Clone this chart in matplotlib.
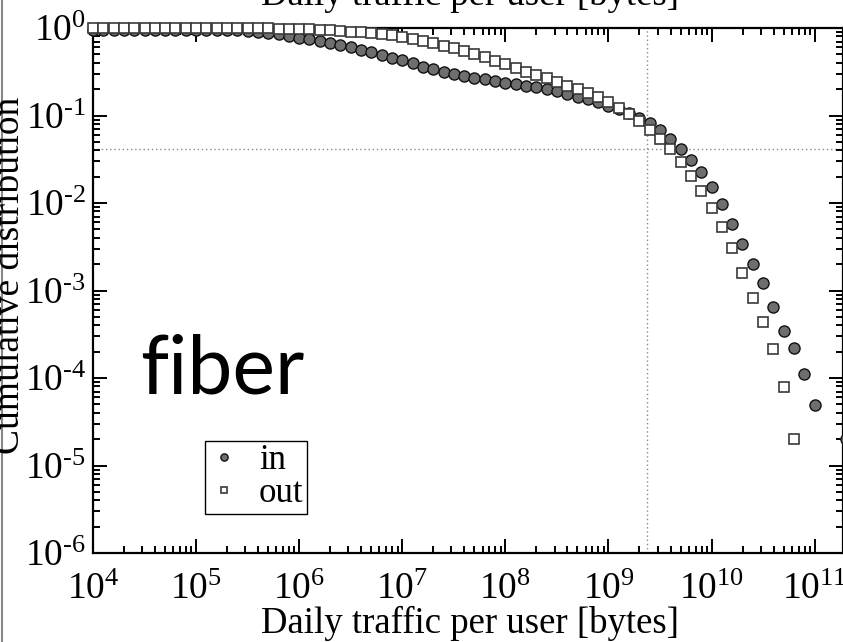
import numpy as np
import matplotlib
matplotlib.use("Agg")
import matplotlib.pyplot as plt
from matplotlib.ticker import LogLocator, NullFormatter, FuncFormatter

plt.rcParams['font.family'] = ['Liberation Serif', 'DejaVu Serif']
plt.rcParams['mathtext.fontset'] = 'stix'
plt.rcParams['axes.unicode_minus'] = False

# ---- data (log10 of bytes, log10 of cumulative fraction) ----
in_x_log = [4.0, 4.1, 4.2, 4.3, 4.4, 4.5, 4.6, 4.7, 4.8, 4.9,
            5.0, 5.1, 5.2, 5.3, 5.4, 5.5, 5.6, 5.7, 5.8, 5.9,
            6.0, 6.1, 6.2, 6.3, 6.4, 6.5, 6.6, 6.7, 6.8, 6.9,
            7.0, 7.1, 7.2, 7.3, 7.4, 7.5, 7.6, 7.7, 7.8, 7.9,
            8.0, 8.1, 8.2, 8.3, 8.4, 8.5, 8.6, 8.7, 8.8, 8.9,
            9.0, 9.1, 9.2, 9.3, 9.4, 9.5, 9.6, 9.7, 9.8, 9.9,
            10.0, 10.1, 10.2, 10.3, 10.4, 10.5, 10.6, 10.7, 10.8, 10.9,
            11.0, 11.3]
in_y_log = [-0.018, -0.018, -0.018, -0.018, -0.018, -0.018, -0.018, -0.018, -0.018, -0.018,
            -0.020, -0.020, -0.022, -0.025, -0.028, -0.034, -0.046, -0.057, -0.074, -0.091,
            -0.109, -0.131, -0.154, -0.171, -0.194, -0.217, -0.246, -0.274, -0.303, -0.340,
            -0.370, -0.405, -0.440, -0.470, -0.500, -0.526, -0.549, -0.571, -0.586, -0.606,
            -0.625, -0.640, -0.660, -0.676, -0.697, -0.720, -0.754, -0.786, -0.811, -0.846,
            -0.891, -0.926, -0.971, -1.029, -1.086, -1.166, -1.270, -1.383, -1.509, -1.646,
            -1.817, -2.011, -2.240, -2.469, -2.697, -2.914, -3.190, -3.463, -3.657, -3.954,
            -4.309, -4.697]

out_x_log = [4.0, 4.1, 4.2, 4.3, 4.4, 4.5, 4.6, 4.7, 4.8, 4.9,
             5.0, 5.1, 5.2, 5.3, 5.4, 5.5, 5.6, 5.7, 5.8, 5.9,
             6.0, 6.1, 6.2, 6.3, 6.4, 6.5, 6.6, 6.7, 6.8, 6.9,
             7.0, 7.1, 7.2, 7.3, 7.4, 7.5, 7.6, 7.7, 7.8, 7.9,
             8.0, 8.1, 8.2, 8.3, 8.4, 8.5, 8.6, 8.7, 8.8, 8.9,
             9.0, 9.1, 9.2, 9.3, 9.4, 9.5, 9.6, 9.7, 9.8, 9.9,
             10.0, 10.1, 10.2, 10.3, 10.4, 10.5, 10.6, 10.7, 10.8]
out_y_log = [0.0, 0.0, 0.0, 0.0, 0.0, 0.0, 0.0, 0.0, 0.0, 0.0,
             -0.002, -0.002, -0.003, -0.003, -0.004, -0.004, -0.005, -0.005, -0.006, -0.007,
             -0.008, -0.012, -0.018, -0.025, -0.032, -0.040, -0.048, -0.058, -0.070, -0.085,
             -0.103, -0.126, -0.149, -0.171, -0.206, -0.229, -0.263, -0.300, -0.337, -0.377,
             -0.411, -0.457, -0.503, -0.537, -0.571, -0.617, -0.663, -0.697, -0.743, -0.789,
             -0.846, -0.914, -0.983, -1.063, -1.166, -1.269, -1.383, -1.531, -1.691, -1.863,
             -2.057, -2.274, -2.514, -2.800, -3.086, -3.360, -3.669, -4.103, -4.697]

vline_x = 2.36e9
hline_y = 0.0414

W, H = 843, 642
fig = plt.figure(figsize=(W / 100, H / 100), dpi=100)
ax = fig.add_axes([93 / W, (H - 553) / H, (W - 93) / W, (553 - 28) / H])

ax.set_xscale('log')
ax.set_yscale('log')
ax.set_xlim(1e4, 10 ** 11.275)
ax.set_ylim(1e-6, 1.0)

ax.axvline(vline_x, color='#888888', lw=1.0, ls=(0, (1, 2)), zorder=1)
ax.axhline(hline_y, color='#888888', lw=1.0, ls=(0, (1, 2)), zorder=1)

in_x = 10 ** np.array(in_x_log)
in_y = 10 ** np.array(in_y_log)
out_x = 10 ** np.array(out_x_log)
out_y = 10 ** np.array(out_y_log)

ax.plot(in_x, in_y, ls='none', marker='o', ms=8, mfc='#6e6e6e', mec='#111111',
        mew=1.0, clip_on=False, zorder=3, label='in')
ax.plot(out_x, out_y, ls='none', marker='s', ms=7.5, mfc='white', mec='#3a3a3a',
        mew=1.2, clip_on=False, zorder=4, label='out')

for s in ax.spines.values():
    s.set_linewidth(1.6)


def pow_fmt(v, pos):
    e = int(round(np.log10(v)))
    s = str(e).replace('-', '\u2010')
    return r'$\mathdefault{10^{' + s + r'}}$'


ax.xaxis.set_major_locator(LogLocator(base=10, numticks=20))
ax.xaxis.set_minor_locator(LogLocator(base=10, subs=np.arange(2, 10), numticks=20))
ax.yaxis.set_major_locator(LogLocator(base=10, numticks=20))
ax.yaxis.set_minor_locator(LogLocator(base=10, subs=np.arange(2, 10), numticks=20))
ax.xaxis.set_major_formatter(FuncFormatter(pow_fmt))
ax.yaxis.set_major_formatter(FuncFormatter(pow_fmt))
ax.xaxis.set_minor_formatter(NullFormatter())
ax.yaxis.set_minor_formatter(NullFormatter())

ax.tick_params(which='both', direction='in', top=True, right=True, width=1.4)
ax.tick_params(which='major', length=10, labelsize=27)
ax.tick_params(which='minor', length=5)
ax.tick_params(axis='x', which='major', pad=14)
ax.tick_params(axis='y', which='major', pad=5)

leg = ax.legend(loc='upper left', bbox_to_anchor=((205 - 93) / (W - 93), (553 - 441) / (553 - 28)),
                fontsize=25, frameon=True, fancybox=False, framealpha=1, edgecolor='black',
                markerscale=0.65, handlelength=0.9, handletextpad=0.55, borderpad=0.1,
                labelspacing=0.0, borderaxespad=0)
leg.get_frame().set_linewidth(1.0)

# bottom x-label
fig.text(470 / W, (H - 633) / H, 'Daily traffic per user [bytes]', ha='center',
         va='baseline', fontsize=26.5)
# top (clipped) label
fig.text(470 / W, (H - 5) / H, 'Daily traffic per user [bytes]', ha='center',
         va='baseline', fontsize=26.5)
# y label (partly cut at the left edge)
fig.text(27 / W, (H - 275) / H, 'Cumulative distribution', rotation=90, ha='right',
         va='center', fontsize=27)

# "fiber" annotation
fig.text(140 / W, (H - 393) / H, 'fiber', family=['Lato', 'DejaVu Sans'],
         fontsize=58, ha='left', va='baseline')

# left border line
fig.add_artist(plt.Line2D([1.5 / W, 1.5 / W], [0, 1], color='#888888', lw=1.5,
                          transform=fig.transFigure))

fig.savefig('out.png', dpi=100)
